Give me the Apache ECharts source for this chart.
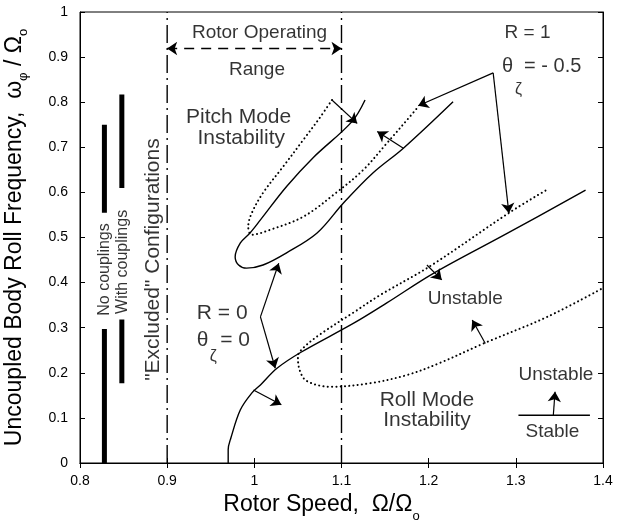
<!DOCTYPE html>
<html>
<head>
<meta charset="utf-8">
<script src="https://cdn.jsdelivr.net/npm/echarts@6.0.0/dist/echarts.min.js"></script>
<style>html,body{margin:0;padding:0;background:#fff}#c{width:620px;height:526px}</style>
</head>
<body>
<div id="c"></div>
<script>
// ---------- data ----------
const xTickLabels = ['0.8','0.9','1','1.1','1.2','1.3','1.4'];
const yTickLabels = ['0','0.1','0.2','0.3','0.4','0.5','0.6','0.7','0.8','0.9','1'];

// Pitch mode boundary, R = 0, theta = 0 (solid)
const pitchR0X = [1.127,1.112,1.068,1.037,1.007,0.995,0.984,0.978,0.982,0.991,1.010,1.037,1.072,1.102,1.136,1.171,1.228];
const pitchR0Y = [0.805,0.757,0.678,0.613,0.539,0.510,0.488,0.457,0.439,0.432,0.439,0.466,0.510,0.576,0.643,0.698,0.801];
// Pitch mode boundary, R = 1, theta = -0.5 (dotted)
const pitchR1X = [1.089,1.076,1.056,1.033,1.010,0.997,0.993,0.997,1.018,1.056,1.095,1.125,1.152,1.182,1.188];
const pitchR1Y = [0.805,0.768,0.716,0.657,0.599,0.554,0.524,0.506,0.517,0.546,0.601,0.650,0.709,0.776,0.790];
// Roll mode boundary, R = 0 (solid)
const rollR0X = [0.970,0.970,0.973,0.984,0.997,1.007,1.026,1.053,1.114,1.152,1.205,1.290,1.380];
const rollR0Y = [0.000,0.030,0.055,0.118,0.155,0.173,0.210,0.245,0.310,0.355,0.420,0.509,0.605];
// Roll mode boundary, R = 1 (dotted)
const rollR1X = [1.334,1.294,1.202,1.144,1.114,1.076,1.056,1.050,1.052,1.060,1.087,1.133,1.175,1.213,1.263,1.336,1.400];
const rollR1Y = [0.604,0.557,0.437,0.372,0.334,0.286,0.255,0.236,0.206,0.182,0.169,0.177,0.195,0.222,0.265,0.324,0.388];

// "Excluded" configuration bars
const barNoX = 0.828;
const barNoSegs = [[0,0.297],[0.555,0.750]];
const barWithX = 0.848;
const barWithSegs = [[0.177,0.318],[0.610,0.817]];

// operating range limits
const rangeLimits = [0.9, 1.1];
const rangeArrowY = 0.919;

// annotation arrows
const arrowFromX = [1.089,1.171,1.274,1.274,1.007,1.007,0.999,1.198,1.265,1.343];
const arrowFromY = [0.805,0.698,0.865,0.865,0.324,0.324,0.162,0.439,0.265,0.106];
const arrowToX   = [1.118,1.141,1.188,1.292,1.028,1.024,1.031,1.215,1.250,1.345];
const arrowToY   = [0.753,0.735,0.792,0.554,0.443,0.210,0.129,0.406,0.317,0.158];
// stable/unstable legend line
const legendLineX = [1.303,1.385];
const legendLineY = [0.106,0.106];

// text annotations
const annText = ['Rotor Operating','Range','R = 1','θ  = - 0.5','ζ','Pitch Mode','Instability','R = 0','θ  = 0','ζ','Unstable','Roll Mode','Instability','Unstable','Stable','No couplings','With couplings','"Excluded" Configurations'];
const annX = [1.006,1.003,1.287,1.284,1.303,0.982,0.985,0.934,0.934,0.953,1.242,1.198,1.198,1.346,1.342,0.828,0.849,0.884];
const annY = [0.954,0.871,0.953,0.879,0.827,0.767,0.720,0.332,0.273,0.236,0.365,0.140,0.095,0.195,0.069,0.429,0.446,0.451];

// ---------- build ----------
const FONT = '"Liberation Sans", Arial, Helvetica, sans-serif';
const zip = (xs, ys) => xs.map((x, i) => [x, ys[i]]);
const annSize = [19,19,19,20,16,21,21,21,21,16,19,21,21,19,19,16,16,21];
const annAlign = ['center','center','left','left','center','center','center','left','left','center','center','center','center','center','center','center','center','center'];
const annRotate = [0,0,0,0,0,0,0,0,0,0,0,0,0,0,0,90,90,90];

const black = '#000';
const series = [];
const solid = (data) => ({type:'line', data, smooth:0.35, symbol:'none', lineStyle:{color:black, width:1.4}, silent:true, z:3});
const dotted = (data) => ({type:'line', data, smooth:0.35, symbol:'none', lineStyle:{color:black, width:2, type:[0.1,4.2], cap:'round'}, silent:true, z:3});

series.push(solid(zip(pitchR0X, pitchR0Y)));
series.push(dotted(zip(pitchR1X, pitchR1Y)));
series.push(solid(zip(rollR0X, rollR0Y)));
series.push(dotted(zip(rollR1X, rollR1Y)));

// dash-dot range lines
rangeLimits.forEach(x => series.push({type:'line', data:[[x,0],[x,1]], symbol:'none', silent:true,
  lineStyle:{color:black, width:1.4, type:[18,5,2,5]}}));

// bars
barNoSegs.forEach(s => series.push({type:'line', data:[[barNoX,s[0]],[barNoX,s[1]]], symbol:'none', silent:true, lineStyle:{color:black, width:5, cap:'butt'}}));
barWithSegs.forEach(s => series.push({type:'line', data:[[barWithX,s[0]],[barWithX,s[1]]], symbol:'none', silent:true, lineStyle:{color:black, width:5, cap:'butt'}}));

// legend line
series.push({type:'line', data:zip(legendLineX, legendLineY), symbol:'none', silent:true, lineStyle:{color:black, width:1.4}});

// arrows
series.push({type:'line', data:[], silent:true,
  markLine:{silent:true, animation:false, symbol:['none','arrow'], symbolSize:10, label:{show:false},
    lineStyle:{color:black, width:1.2, type:'solid'}, itemStyle:{color:black},
    data: arrowFromX.map((x,i)=>[{coord:[x, arrowFromY[i]]},{coord:[arrowToX[i], arrowToY[i]]}])}});
// operating range double arrow
series.push({type:'line', data:[], silent:true,
  markLine:{silent:true, animation:false, symbol:['arrow','arrow'], symbolSize:10, label:{show:false},
    lineStyle:{color:black, width:1.4, type:[10,7]}, itemStyle:{color:black},
    data:[[{coord:[rangeLimits[0], rangeArrowY]},{coord:[rangeLimits[1], rangeArrowY]}]]}});

// text labels
series.push({type:'scatter', symbolSize:0, silent:true, z:5,
  data: annText.map((t,i)=>({value:[annX[i], annY[i]], name:t,
    label:{show:true, position:'inside', formatter:t, color:black, fontFamily:FONT,
      fontSize:annSize[i], align:annAlign[i], verticalAlign:'middle', rotate:annRotate[i]}}))});

const axisCommonX = {type:'value', min:0.8, max:1.4, interval:0.1};
const axisCommonY = {type:'value', min:0, max:1, interval:0.1};

const option = {
  animation:false,
  backgroundColor:'#fff',
  grid:{left:80, right:17, top:12, bottom:63, show:true, borderColor:black, borderWidth:1, outerBoundsMode:'none', containLabel:false},
  xAxis:[
    Object.assign({}, axisCommonX, {position:'bottom',
      axisLine:{show:true, lineStyle:{color:black, width:1}},
      axisTick:{show:true, inside:true, length:5, lineStyle:{color:black}},
      splitLine:{show:false},
      axisLabel:{color:black, fontFamily:FONT, fontSize:14, margin:11,
        formatter:(v)=>xTickLabels[Math.round((v-0.8)*10)]},
      name:'{m|Rotor Speed,  Ω/Ω}{s|o}', nameLocation:'middle', nameGap:24,
      nameTextStyle:{padding:[0,40,0,0], rich:{
        m:{fontSize:23, fontFamily:FONT, color:black, lineHeight:36},
        s:{fontSize:13, fontFamily:FONT, color:black, lineHeight:12, verticalAlign:'bottom'}}}}),
    Object.assign({}, axisCommonX, {position:'top',
      axisLine:{show:true, lineStyle:{color:black, width:1}},
      axisTick:{show:true, inside:true, length:5, lineStyle:{color:black}},
      axisLabel:{show:false}, splitLine:{show:false}})
  ],
  yAxis:[
    Object.assign({}, axisCommonY, {position:'left',
      axisLine:{show:true, lineStyle:{color:black, width:1}},
      axisTick:{show:true, inside:true, length:5, lineStyle:{color:black}},
      splitLine:{show:false},
      axisLabel:{color:black, fontFamily:FONT, fontSize:14, margin:12,
        formatter:(v)=>yTickLabels[Math.round(v*10)]},
      name:'{m|Uncoupled Body Roll Frequency,  ω}{s|φ}{m| / Ω}{s|o}', nameLocation:'middle', nameGap:50,
      nameTextStyle:{rich:{
        m:{fontSize:23, fontFamily:FONT, color:black, lineHeight:30},
        s:{fontSize:13, fontFamily:FONT, color:black, lineHeight:12, verticalAlign:'bottom'}}}}),
    Object.assign({}, axisCommonY, {position:'right',
      axisLine:{show:true, lineStyle:{color:black, width:1}},
      axisTick:{show:true, inside:true, length:5, lineStyle:{color:black}},
      axisLabel:{show:false}, splitLine:{show:false}})
  ],
  series: series
};

const chart = echarts.init(document.getElementById('c'), null, {renderer:'canvas'});
chart.setOption(option);
</script>
</body>
</html>
